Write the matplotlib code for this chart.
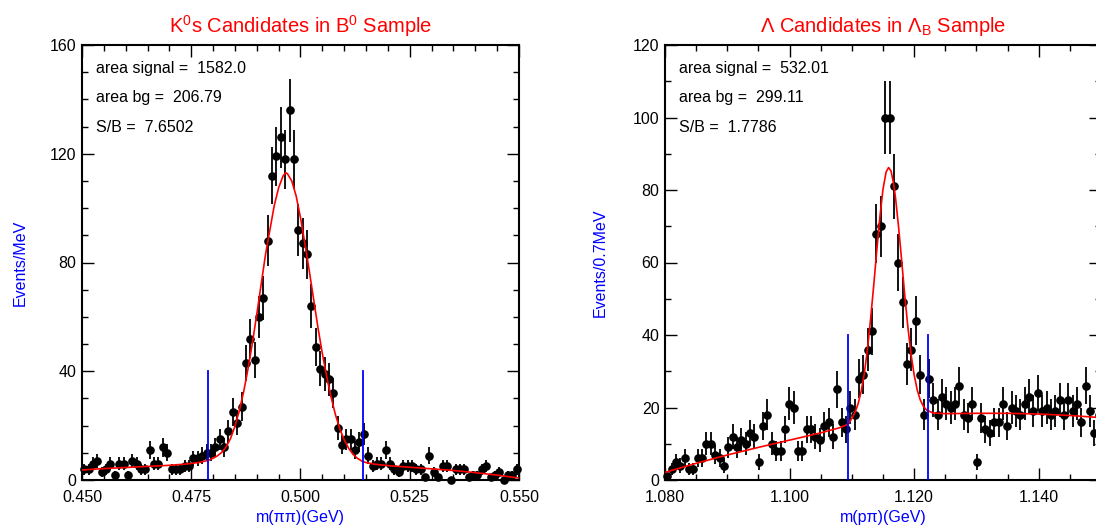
import numpy as np
import matplotlib
matplotlib.use("Agg")
import matplotlib.pyplot as plt
from matplotlib.ticker import MultipleLocator, FormatStrFormatter

plt.rcParams['font.family'] = ['Liberation Sans', 'DejaVu Sans']
plt.rcParams['mathtext.fontset'] = 'custom'
plt.rcParams['mathtext.rm'] = 'Liberation Sans'
plt.rcParams['mathtext.it'] = 'Liberation Sans:italic'
plt.rcParams['mathtext.bf'] = 'Liberation Sans:bold'

# ---------------- K0s panel (1 MeV bins, 0.450 - 0.550 GeV) ----------------
K0S_LO, K0S_BW = 0.450, 0.001
K0S_COUNTS = [4, 4, 6, 7, 3, 4, 6, 2, 6, 6,
              2, 7, 6, 4, 4, 11, 6, 6, 12, 10,
              4, 4, 4, 5, 5, 8, 8, 9, 10, 10,
              12, 15, 12, 18, 25, 21, 27, 43, 52, 44,
              60, 67, 88, 112, 119, 126, 118, 136, 118, 92,
              87, 83, 64, 49, 41, 39, 37, 32, 19, 13,
              15, 15, 11, 14, 17, 9, 5, 6, 6, 11,
              6, 4, 3, 5, 5, 5, 4, 4, 1, 9,
              3, 1, 5, 5, 0, 4, 4, 4, 1, 2,
              2, 4, 5, 1, 2, 3, 0, 2, 2, 4]
K0S_FIT_X = [0.450, 0.455, 0.460, 0.465, 0.470, 0.474, 0.477, 0.479, 0.480, 0.481,
             0.482, 0.483, 0.484, 0.485, 0.486, 0.487, 0.488, 0.489, 0.490, 0.491,
             0.492, 0.493, 0.494, 0.495, 0.496, 0.4966, 0.497, 0.498, 0.499, 0.500,
             0.501, 0.502, 0.503, 0.504, 0.505, 0.506, 0.507, 0.508, 0.509, 0.510,
             0.511, 0.512, 0.513, 0.514, 0.515, 0.517, 0.520, 0.525, 0.530, 0.535,
             0.540, 0.545, 0.550]
K0S_FIT_Y = [3.7, 4.2, 4.6, 5.0, 5.4, 5.9, 6.5, 7.3, 8.0, 8.9,
             10.2, 12.2, 15.3, 19.8, 25.5, 32.5, 41.0, 50.5, 61.0, 72.0,
             83.0, 92.0, 101.0, 107.5, 111.8, 113.0, 112.7, 110.0, 104.5, 96.5,
             87.0, 77.0, 66.5, 56.0, 46.5, 38.0, 30.5, 24.0, 18.8, 14.8,
             11.7, 9.5, 8.0, 7.0, 6.4, 5.8, 5.3, 4.7, 4.1, 3.5,
             2.7, 1.8, 0.7]
K0S_CUTS = [0.4788, 0.5143]
K0S_TEXT = ["area signal =  1582.0", "area bg =  206.79", "S/B =  7.6502"]

# ---------------- Lambda panel (0.7 MeV bins, 1.080 - 1.150 GeV) ----------------
LAM_LO, LAM_BW = 1.080, 0.0007
LAM_COUNTS = [1, 3, 5, 4, 6, 3, 3, 6, 6, 10,
              10, 7, 6, 4, 9, 12, 9, 11, 10, 13,
              12, 5, 15, 18, 10, 8, 8, 14, 21, 20,
              8, 8, 14, 14, 12, 11, 15, 16, 12, 25,
              16, 14, 20, 18, 28, 29, 36, 41, 68, 70,
              100, 100, 81, 60, 49, 32, 36, 44, 29, 18,
              28, 22, 18, 23, 21, 20, 21, 26, 18, 17,
              21, 5, 17, 14, 13, 16, 16, 21, 15, 20,
              19, 18, 21, 23, 19, 24, 19, 20, 18, 19,
              22, 18, 22, 19, 21, 16, 26, 19, 13, 18]
LAM_FIT_X = [1.0800, 1.0850, 1.0900, 1.0950, 1.1000, 1.1050, 1.1080, 1.1094, 1.1100, 1.1105,
             1.1110, 1.1115, 1.1120, 1.1125, 1.1130, 1.1135, 1.1140, 1.1145, 1.1150, 1.1155,
             1.1159, 1.1163, 1.1167, 1.1170, 1.1175, 1.1180, 1.1185, 1.1190, 1.1195, 1.1200,
             1.1205, 1.1210, 1.1215, 1.1220, 1.1230, 1.1250, 1.1300, 1.1350, 1.1400, 1.1450,
             1.1500]
LAM_FIT_Y = [2.1, 4.6, 6.9, 9.0, 11.0, 13.0, 14.4, 15.4, 17.0, 18.6,
             21.0, 24.5, 29.4, 36.0, 44.3, 53.5, 63.3, 72.6, 80.2, 85.0,
             86.2, 85.2, 81.8, 78.0, 69.8, 60.5, 50.8, 42.1, 34.7, 29.0,
             24.8, 22.0, 20.3, 19.3, 18.5, 18.3, 18.4, 18.4, 18.2, 17.8,
             17.2]
LAM_CUTS = [1.1094, 1.1223]
LAM_TEXT = ["area signal =  532.01", "area bg =  299.11", "S/B =  1.7786"]

FS = 11.5


def draw_panel(ax, lo, bw, counts, fit_x, fit_y, cuts, texts,
               title, xlabel, ylabel, xlim, ylim, xmaj, xmin, ymaj):
    counts = np.asarray(counts, dtype=float)
    x = lo + bw * (np.arange(len(counts)) + 0.5)
    ax.errorbar(x, counts, yerr=np.sqrt(counts), fmt='o', color='black',
                ms=5.2, elinewidth=1.3, capsize=0, clip_on=False, zorder=3)
    ax.plot(fit_x, fit_y, color='red', lw=1.2, zorder=4)
    for c in cuts:
        ax.plot([c, c], [0, 40], color='blue', lw=1.3, zorder=5)

    ax.set_xlim(*xlim)
    ax.set_ylim(*ylim)
    ax.xaxis.set_major_locator(MultipleLocator(xmaj))
    ax.xaxis.set_minor_locator(MultipleLocator(xmin))
    ax.xaxis.set_major_formatter(FormatStrFormatter('%.3f'))
    ax.yaxis.set_major_locator(MultipleLocator(ymaj))
    ax.yaxis.set_minor_locator(MultipleLocator(10))
    ax.tick_params(which='both', direction='in', top=True, right=True,
                   labelsize=FS, width=1.0)
    ax.tick_params(which='major', length=8.5)
    ax.tick_params(which='minor', length=4.5)
    ax.tick_params(axis='x', pad=7)
    ax.tick_params(axis='y', pad=4)
    for sp in ax.spines.values():
        sp.set_linewidth(1.5)

    ax.set_title(title, color='red', fontsize=14.5, pad=9)
    ax.set_xlabel(xlabel, color='blue', fontsize=FS)
    ax.set_ylabel(ylabel, color='blue', fontsize=FS)
    ax.xaxis.set_label_coords(0.5, -0.087)
    ax.xaxis.label.set_va('center')

    for k, t in enumerate(texts):
        ax.text(0.032, 0.947 - 0.068 * k, t, transform=ax.transAxes,
                fontsize=FS, va='center', ha='left', color='black')


fig = plt.figure(figsize=(10.96, 5.31), dpi=100)
ax1 = fig.add_axes([82 / 1096, 51 / 531, 437 / 1096, 435 / 531])
ax2 = fig.add_axes([665 / 1096, 51 / 531, 436 / 1096, 435 / 531])

draw_panel(ax1, K0S_LO, K0S_BW, K0S_COUNTS, K0S_FIT_X, K0S_FIT_Y, K0S_CUTS, K0S_TEXT,
           r"K$^{0}$s Candidates in B$^{0}$ Sample", "m(\u03c0\u03c0)(GeV)", "Events/MeV",
           (0.450, 0.550), (0, 160), 0.025, 0.005, 40)
ax1.yaxis.set_label_coords(-0.142, 0.5)
ax1.yaxis.label.set_va('center')

draw_panel(ax2, LAM_LO, LAM_BW, LAM_COUNTS, LAM_FIT_X, LAM_FIT_Y, LAM_CUTS, LAM_TEXT,
           r"\u039b Candidates in \u039b$_{\mathrm{B}}$ Sample".encode().decode('unicode_escape'),
           "m(p\u03c0)(GeV)", "Events/0.7MeV",
           (1.080, 1.150), (0, 120), 0.020, 0.005, 20)
ax2.yaxis.set_label_coords(-0.148, 0.5)
ax2.yaxis.label.set_va('center')

fig.savefig("out.png", dpi=100)
